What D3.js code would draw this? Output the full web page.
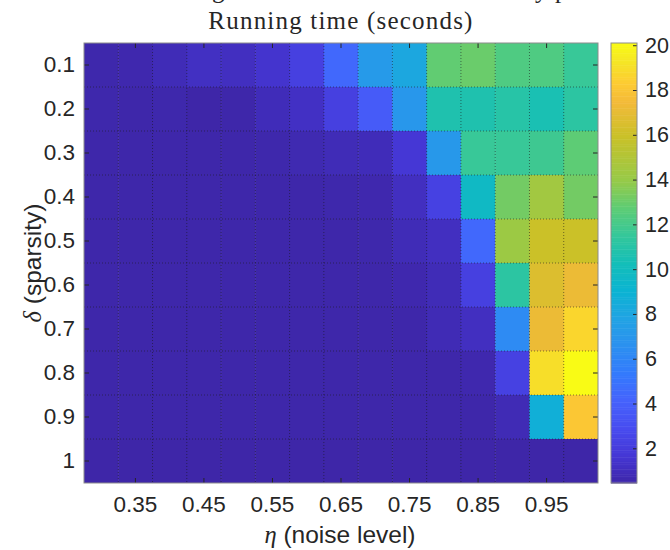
<!DOCTYPE html>
<html>
<head>
<meta charset="utf-8">
<script src="https://cdn.jsdelivr.net/npm/d3@7"></script>
<style>
  body { margin: 0; background: #fff; }
  svg text { font-family: "Liberation Sans", Arial, Helvetica, sans-serif; fill: #262626; }
</style>
</head>
<body>
<div id="main"></div>
<script>
// noise level (columns) and sparsity (rows)
var etaLevels = [0.30, 0.35, 0.40, 0.45, 0.50, 0.55, 0.60, 0.65, 0.70, 0.75, 0.80, 0.85, 0.90, 0.95, 1.00];
var etaTicks = [0.35, 0.45, 0.55, 0.65, 0.75, 0.85, 0.95];
var deltaLevels = [0.1, 0.2, 0.3, 0.4, 0.5, 0.6, 0.7, 0.8, 0.9, 1.0];
var colorbarTicks = [2, 4, 6, 8, 10, 12, 14, 16, 18, 20];

// running time in seconds, one row per sparsity level
var runTime = [
  [0.55, 0.60, 0.85, 1.15, 1.10, 1.50, 2.20, 4.40, 7.20, 8.10, 12.8, 13.0, 12.3, 12.3, 11.6],
  [0.55, 0.50, 0.55, 0.45, 0.50, 0.90, 1.20, 2.20, 3.70, 7.00, 10.7, 10.7, 11.0, 10.5, 11.2],
  [0.50, 0.50, 0.50, 0.50, 0.50, 0.55, 0.70, 0.85, 0.90, 1.70, 7.10, 11.6, 11.6, 11.8, 12.7],
  [0.50, 0.50, 0.50, 0.50, 0.50, 0.50, 0.50, 0.55, 0.60, 1.10, 2.30, 9.70, 13.2, 14.4, 13.2],
  [0.50, 0.50, 0.50, 0.50, 0.50, 0.50, 0.50, 0.50, 0.55, 0.85, 1.10, 4.40, 14.2, 16.0, 16.0],
  [0.50, 0.50, 0.50, 0.50, 0.50, 0.50, 0.50, 0.50, 0.50, 0.60, 0.85, 2.20, 11.2, 16.6, 17.2],
  [0.50, 0.50, 0.50, 0.50, 0.50, 0.50, 0.50, 0.50, 0.50, 0.50, 0.80, 1.10, 6.30, 17.2, 18.7],
  [0.50, 0.50, 0.50, 0.50, 0.50, 0.50, 0.50, 0.50, 0.50, 0.50, 0.50, 0.60, 2.30, 19.0, 20.1],
  [0.50, 0.50, 0.50, 0.50, 0.50, 0.50, 0.50, 0.50, 0.50, 0.50, 0.50, 0.50, 0.80, 8.70, 18.1],
  [0.45, 0.45, 0.45, 0.45, 0.45, 0.45, 0.45, 0.45, 0.45, 0.45, 0.45, 0.45, 0.45, 0.45, 0.45]
];

// parula colormap, sampled (position, r, g, b)
var parulaStops = [
  [0.0000, 0.2422,0.1504,0.6603],[0.0625, 0.2704,0.2138,0.8346],[0.1250, 0.2813,0.2985,0.9397],
  [0.1875, 0.2710,0.3860,0.9898],[0.2500, 0.2006,0.4803,0.9906],[0.3125, 0.1716,0.5655,0.9393],
  [0.3750, 0.1288,0.6408,0.8910],[0.4375, 0.0433,0.7039,0.8242],[0.5000, 0.0770,0.7468,0.7224],
  [0.5625, 0.2061,0.7808,0.6065],[0.6250, 0.3671,0.8021,0.4563],[0.6875, 0.5886,0.7913,0.2833],
  [0.7900, 0.7945,0.7554,0.1570],[0.8650, 0.9523,0.7284,0.2237],[0.9100, 0.9938,0.7974,0.1974],
  [0.9550, 0.9601,0.8963,0.1507],[1.0000, 0.9769,0.9839,0.0805]
];
var parula = d3.scaleLinear()
  .domain(parulaStops.map(function(s) { return s[0]; }))
  .range(parulaStops.map(function(s) { return d3.rgb(s[1] * 255, s[2] * 255, s[3] * 255); }))
  .interpolate(d3.interpolateRgb)
  .clamp(true);

var W = 670, H = 550;
var plot = {left: 84, right: 598, top: 43, bottom: 483};
var cbar = {left: 611, right: 637};

var svg = d3.select("#main")
  .append("svg")
  .attr("width", W)
  .attr("height", H);

var x = d3.scaleBand().domain(etaLevels).range([plot.left, plot.right]);
var y = d3.scaleBand().domain(deltaLevels).range([plot.top, plot.bottom]);

var cells = [];
deltaLevels.forEach(function(d, i) {
  etaLevels.forEach(function(e, j) {
    cells.push({delta: d, eta: e, t: runTime[i][j]});
  });
});

var color = d3.scaleSequential(parula).domain(d3.extent(cells, function(c) { return c.t; }));

svg.append("g")
  .selectAll("rect")
  .data(cells)
  .enter()
  .append("rect")
  .attr("x", function(d) { return x(d.eta); })
  .attr("y", function(d) { return y(d.delta); })
  .attr("width", function(d) { return x.bandwidth() + (d.eta === 1 ? 0 : 0.5); })
  .attr("height", function(d) { return y.bandwidth() + (d.delta === 1 ? 0 : 0.5); })
  .attr("fill", function(d) { return color(d.t); });

// dotted minor grid at cell edges
var grid = svg.append("g")
  .attr("stroke", "#1a1a1a")
  .attr("stroke-opacity", 0.55)
  .attr("stroke-dasharray", "1,2");
grid.selectAll(".gx")
  .data(etaLevels.slice(1))
  .enter()
  .append("line")
  .attr("x1", function(d) { return x(d); })
  .attr("x2", function(d) { return x(d); })
  .attr("y1", plot.top)
  .attr("y2", plot.bottom);
grid.selectAll(".gy")
  .data(deltaLevels.slice(1))
  .enter()
  .append("line")
  .attr("y1", function(d) { return y(d); })
  .attr("y2", function(d) { return y(d); })
  .attr("x1", plot.left)
  .attr("x2", plot.right);

function styleAxis(size) {
  return function(g) {
    g.select(".domain").remove();
    g.attr("font-family", null).attr("font-size", null);
    g.selectAll(".tick line").attr("stroke", "#262626");
    g.selectAll(".tick text").style("font-size", size + "px").attr("fill", "#262626");
  };
}

svg.append("g")
  .attr("transform", "translate(0," + plot.bottom + ")")
  .call(d3.axisBottom(x).tickValues(etaTicks).tickSizeInner(-5).tickSizeOuter(0)
    .tickPadding(13).tickFormat(d3.format(".2f")))
  .call(styleAxis(22.5));
svg.append("g")
  .attr("transform", "translate(0," + plot.top + ")")
  .call(d3.axisTop(x).tickValues(etaTicks).tickSizeInner(-5).tickSizeOuter(0).tickFormat(""))
  .call(styleAxis(22.5));
svg.append("g")
  .attr("transform", "translate(" + plot.left + ",0)")
  .call(d3.axisLeft(y).tickSizeInner(-5).tickSizeOuter(0).tickPadding(9)
    .tickFormat(function(d) { return d === 1 ? "1" : d3.format(".1f")(d); }))
  .call(styleAxis(22.5));
svg.append("g")
  .attr("transform", "translate(" + plot.right + ",0)")
  .call(d3.axisRight(y).tickSizeInner(-5).tickSizeOuter(0).tickFormat(""))
  .call(styleAxis(22.5));

svg.append("rect")
  .attr("x", plot.left).attr("y", plot.top)
  .attr("width", plot.right - plot.left).attr("height", plot.bottom - plot.top)
  .attr("fill", "none").attr("stroke", "#8c8c8c");

// colorbar
var cy = d3.scaleLinear().domain(color.domain()).range([plot.bottom, plot.top]);
var lo = color.domain()[0], hi = color.domain()[1];
var nSteps = 256, step = (hi - lo) / nSteps;
svg.append("g")
  .selectAll("rect")
  .data(d3.range(nSteps))
  .enter()
  .append("rect")
  .attr("x", cbar.left)
  .attr("width", cbar.right - cbar.left)
  .attr("y", function(i) { return cy(lo + (i + 1) * step); })
  .attr("height", function(i) { return cy(lo + i * step) - cy(lo + (i + 1) * step) + 0.5; })
  .attr("fill", function(i) { return color(lo + (i + 0.5) * step); });
svg.append("g")
  .attr("transform", "translate(" + cbar.right + ",0)")
  .call(d3.axisRight(cy).tickValues(colorbarTicks).tickSizeInner(-4).tickSizeOuter(0).tickPadding(8))
  .call(styleAxis(21.5));
svg.append("rect")
  .attr("x", cbar.left).attr("y", plot.top)
  .attr("width", cbar.right - cbar.left).attr("height", plot.bottom - plot.top)
  .attr("fill", "none").attr("stroke", "#8c8c8c");

// titles
var serif = '"Liberation Serif", "Times New Roman", serif';
var topLine = "Recovering the rank-one matrix: accuracy phase";
var t0 = svg.append("text")
  .attr("x", 0).attr("y", -2)
  .style("font-family", serif).style("font-size", "25px").attr("fill", "#111")
  .text(topLine);
var ig = topLine.indexOf("g"), iy = topLine.indexOf("y ");
var n0 = t0.node();
var gap = n0.getStartPositionOfChar(iy).x - n0.getStartPositionOfChar(ig).x;
t0.attr("letter-spacing", ((535 - 212) - gap) / (iy - ig));
t0.attr("x", 212 - n0.getStartPositionOfChar(ig).x);

svg.append("text")
  .attr("x", 341).attr("y", 29)
  .attr("text-anchor", "middle")
  .attr("letter-spacing", 1.2)
  .style("font-family", serif).style("font-size", "25px").attr("fill", "#111")
  .text("Running time (seconds)");

var xl = svg.append("text")
  .attr("x", 340).attr("y", 543)
  .attr("text-anchor", "middle")
  .style("font-size", "24.5px");
xl.append("tspan").style("font-family", serif).style("font-style", "italic").text("η");
xl.append("tspan").text(" (noise level)");

var yl = svg.append("text")
  .attr("transform", "translate(41,263) rotate(-90)")
  .attr("text-anchor", "middle")
  .style("font-size", "24.5px");
yl.append("tspan").style("font-family", serif).style("font-style", "italic").text("δ");
yl.append("tspan").text(" (sparsity)");
</script>
</body>
</html>
